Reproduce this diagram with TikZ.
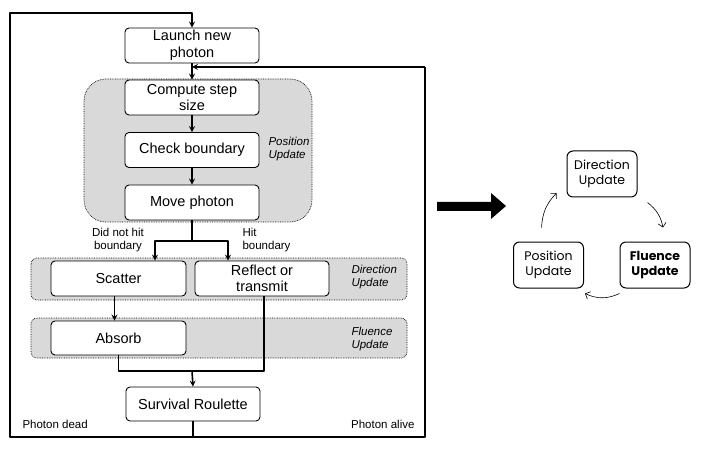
\documentclass[tikz,border=0pt]{standalone}
\usepackage{fontspec}
\setmainfont{Liberation Sans}
\newfontfamily\cyclefont{Poppins}
\usetikzlibrary{calc,arrows.meta}

\begin{document}
\begin{tikzpicture}[x=1pt,y=-1pt,line join=round,>=stealth,
		box/.style={draw,line width=0.9pt,rounded corners=4pt,fill=white,align=center,
			minimum width=134pt,minimum height=35pt,inner sep=1pt,
			font=\fontsize{14.5}{16.5}\selectfont},
		region/.style={draw,densely dotted,line width=0.7pt,fill=black!15},
		regname/.style={anchor=west,align=left,font=\fontsize{11.5}{13.5}\selectfont\itshape},
		note/.style={align=center,font=\fontsize{11.5}{13.5}\selectfont},
		flow/.style={line width=1.6pt},
		cyc/.style={draw,line width=1pt,rounded corners=6pt,align=center,
			minimum width=70pt,minimum height=46pt,inner sep=1pt,
			font=\cyclefont\fontsize{12.5}{15}\selectfont},
		cycarrow/.style={-{Straight Barb[length=4pt,width=8pt]},line width=0.6pt}]
	\useasboundingbox (0,0) rectangle (704,449);
	\draw[region,rounded corners=22pt] (84,79) rectangle (312,222);
	\draw[region,rounded corners=6pt] (31,258) rectangle (407,300);
	\draw[region,rounded corners=6pt] (31,318) rectangle (407,358);
	\node[box] (launch) at (192,45.5) {Launch new\\photon};
	\node[box] (comp) at (192,97.5) {Compute step\\size};
	\node[box] (check) at (192,150) {Check boundary};
	\node[box] (move) at (192,202.5) {Move photon};
	\node[box,minimum width=135pt] (scat) at (118.5,278.5) {Scatter};
	\node[box] (refl) at (262,278.5) {Reflect or\\transmit};
	\node[box,minimum width=135pt,minimum height=34pt] (absorb) at (118.5,338) {Absorb};
	\node[box,minimum height=34pt] (surv) at (193,404) {Survival Roulette};
	\node[regname] (posname) at (265,149) {Position\\Update};
	\node[regname] (dirname) at (348,277) {Direction\\Update};
	\node[regname] (fluname) at (348,339) {Fluence\\Update};
	\node[note] (nohit) at (118,240) {Did not hit\\boundary};
	\node[note,anchor=west,align=left] (hit) at (239,240) {Hit\\boundary};
	\node[note,anchor=west] (dead) at (19,424) {Photon dead};
	\node[note,anchor=east] (alive) at (418,424) {Photon alive};
	\coordinate (tl) at (10,13);
	\coordinate (bl) at (10,437);
	\coordinate (br) at (425,437);
	\coordinate (tr) at (425,67);
	\coordinate (split) at (192,241);
	\coordinate (merge) at (192,371);
	\draw[flow,->] (surv.south) -- (surv.south |- bl) -- (bl) -- (tl) -- (launch.north |- tl) -- (launch.north);
	\draw[flow] (surv.south |- br) -- (br) -- (tr);
	\draw[flow,->] (tr) -- (launch.south |- tr);
	\draw[flow,->] (launch) -- (comp);
	\draw[flow,->] (comp) -- (check);
	\draw[flow,->] (check) -- (move);
	\draw[flow] (move.south) -- (split);
	\draw[flow,->] (split) -| ([xshift=36.5pt]scat.north);
	\draw[flow,->] (split) -| ([xshift=-34pt]refl.north);
	\draw[flow,->] ([xshift=-4pt]scat.south) -- ([xshift=-4pt]absorb.north);
	\draw[flow] (absorb.south) |- (merge) -| ([xshift=2pt]refl.south);
	\draw[flow,->] (merge) -- (surv.north);
	\fill (437,202) -- (491,202) -- (491,193) -- (506,206) -- (491,219) -- (491,211) -- (437,211) -- cycle;
	\node[cyc] (dirup) at (602,174) {Direction\\Update};
	\node[cyc,font=\cyclefont\bfseries\fontsize{12.5}{15}\selectfont] (fluup) at (655,265) {Fluence\\Update};
	\node[cyc] (posup) at (548.5,265) {Position\\Update};
	\draw[cycarrow] ([shift={(-7pt,14pt)}]posup.north) to[bend left=20] ([shift={(-10pt,-19pt)}]dirup.west);
	\draw[cycarrow] ([shift={(10pt,-5pt)}]dirup.south east) to[bend left=20] ([shift={(8pt,14pt)}]fluup.north);
	\draw[cycarrow] ([shift={(0pt,-5pt)}]fluup.south west) to[bend left=25] ([shift={(1pt,-5pt)}]posup.south east);
\end{tikzpicture}
\end{document}
